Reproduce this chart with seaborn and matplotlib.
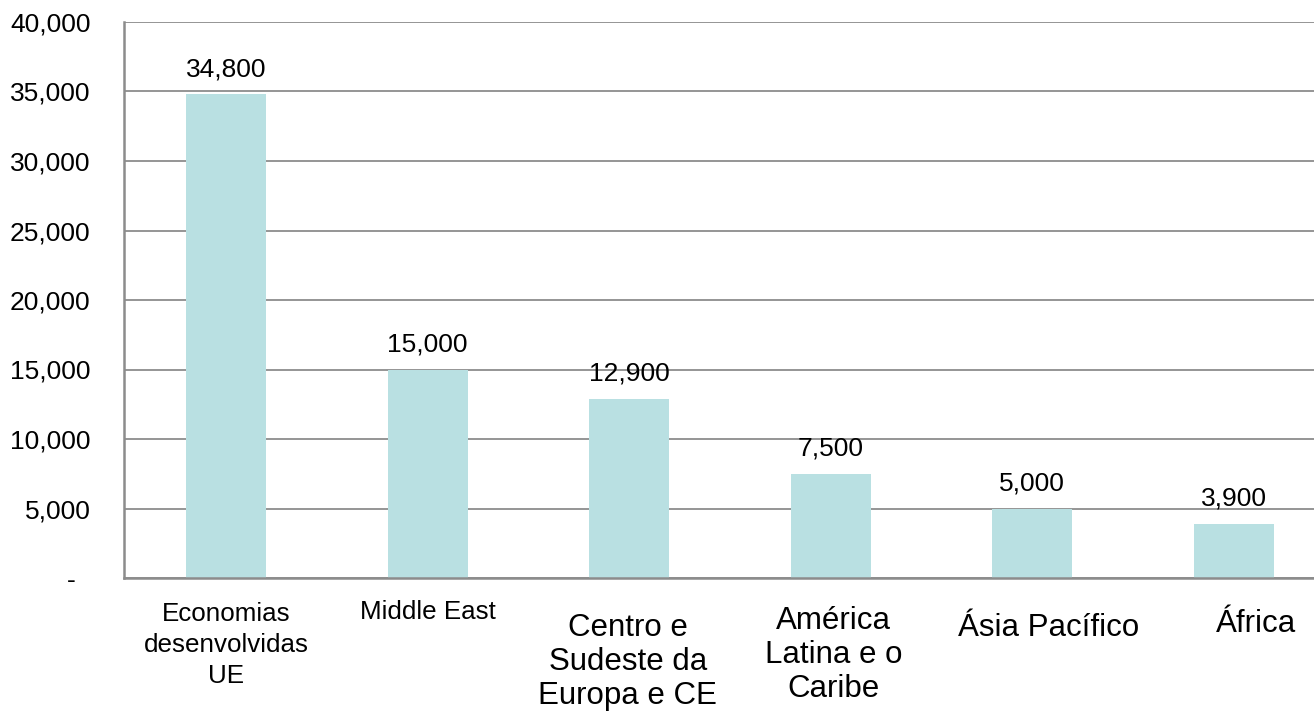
import matplotlib
matplotlib.use("Agg")
import matplotlib.pyplot as plt
import seaborn as sns
import pandas as pd
from matplotlib.ticker import FixedLocator

categories = ["Economias\ndesenvolvidas\nUE", "Middle East", "Centro e\nSudeste da\nEuropa e CE",
              "América\nLatina e o\nCaribe", "Ásia Pacífico", "África"]
values = [34800, 15000, 12900, 7500, 5000, 3900]
value_labels = ["34,800", "15,000", "12,900", "7,500", "5,000", "3,900"]
y_ticks = [0, 5000, 10000, 15000, 20000, 25000, 30000, 35000, 40000]
y_tick_labels = ["-  ", "5,000", "10,000", "15,000", "20,000", "25,000", "30,000", "35,000", "40,000"]

sns.set_theme(style="white")
plt.rcParams['font.family'] = ['Liberation Sans', 'DejaVu Sans']

df = pd.DataFrame({"cat": categories, "val": values})

fig = plt.figure(figsize=(13.14, 7.12), dpi=100)
ax = fig.add_axes([124/1314, (712-578)/712, 1 - 124/1314, (578-22)/712])

sns.barplot(data=df, x="cat", y="val", color="#B9E0E2", width=0.397, ax=ax,
            saturation=1, edgecolor="none", zorder=3)

ax.set_ylim(0, 40000)
ax.set_xlim(-0.506, 5.397)
ax.yaxis.set_major_locator(FixedLocator(y_ticks))
ax.set_yticklabels(y_tick_labels, fontsize=19, color="#000000")
ax.tick_params(axis="y", length=0, pad=24)
ax.tick_params(axis="x", length=0, labelbottom=False)
ax.set_xlabel("")
ax.set_ylabel("")

ax.grid(axis="y", color="#8c8c8c", linewidth=1.3, zorder=0)
ax.grid(axis="x", visible=False)
for s in ["top", "right"]:
    ax.spines[s].set_visible(False)
for s in ["left", "bottom"]:
    ax.spines[s].set_visible(True)
    ax.spines[s].set_color("#8c8c8c")
    ax.spines[s].set_linewidth(1.8)
    ax.spines[s].set_zorder(4)

# value labels
for i, (v, lab) in enumerate(zip(values, value_labels)):
    ax.annotate(lab, xy=(i, v), xytext=(0, 13), textcoords="offset points",
                ha="center", va="baseline", fontsize=19, color="#000000")

# category labels (sizes / offsets per label as in the original)
label_sizes = [18.7, 18.7, 22.5, 22.5, 22.5, 22.5]
label_spacing = [1.38, 1.38, 1.17, 1.17, 1.17, 1.17]
label_dx = [0, 0, -1, 2, 12, 16]
label_dy = [-17, -16, -25, -20, -25, -22]
for i, cat in enumerate(categories):
    ax.annotate(cat, xy=(i, 0), xycoords=("data", "axes fraction"),
                xytext=(label_dx[i], label_dy[i]), textcoords="offset points",
                ha="center", va="top", fontsize=label_sizes[i], color="#000000",
                linespacing=label_spacing[i], multialignment="center", annotation_clip=False)

fig.savefig("out.png", dpi=100, facecolor="white")
